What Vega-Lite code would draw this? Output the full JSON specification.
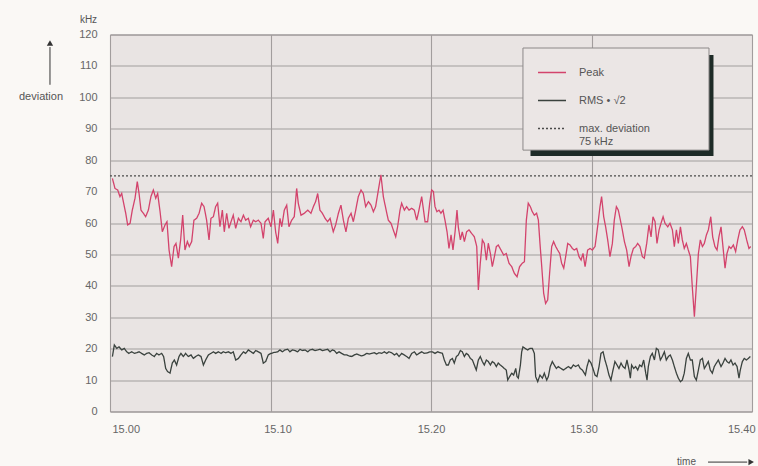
{
"$schema":"https://vega.github.io/schema/vega-lite/v6.json",
"width":642,"height":377,
"autosize":{"type":"none"},
"padding":{"left":110,"top":34.5,"right":6,"bottom":54.5},
"background":"#faf8f5",
"resolve":{"axis":{"x":"independent","y":"independent"}},
"config":{
 "view":{"fill":"#e9e4e3","stroke":"#8f8a8a","strokeWidth":1},
 "font":"Liberation Sans",
 "axis":{"labelFont":"Liberation Sans","titleFont":"Liberation Sans","labelColor":"#666","titleColor":"#555","labelFontSize":11,"ticks":false,"domain":false,"grid":true,"gridColor":"#a29d9d","gridWidth":1.1,"titleFontWeight":"normal","titleFontSize":10,"labelOverlap":false},
 "legend":{"orient":"none","legendX":427,"legendY":23,"symbolType":"stroke","symbolSize":784,"symbolStrokeWidth":1.3,"labelFont":"Liberation Sans","labelFontSize":11,"labelColor":"#555","labelOffset":12,"rowPadding":8,"padding":0,"labelLimit":200}
},
"datasets":{"d":[
{"s":"Peak","t":0.15,"v":74.2},{"s":"Peak","t":0.31,"v":71.0},{"s":"Peak","t":0.48,"v":70.5},{"s":"Peak","t":0.62,"v":68.4},{"s":"Peak","t":0.73,"v":69.4},{"s":"Peak","t":0.83,"v":66.8},{"s":"Peak","t":0.98,"v":63.1},{"s":"Peak","t":1.10,"v":59.4},{"s":"Peak","t":1.25,"v":59.9},{"s":"Peak","t":1.39,"v":64.1},{"s":"Peak","t":1.56,"v":67.9},{"s":"Peak","t":1.70,"v":73.2},{"s":"Peak","t":1.81,"v":69.4},{"s":"Peak","t":1.93,"v":64.1},{"s":"Peak","t":2.08,"v":63.1},{"s":"Peak","t":2.22,"v":62.0},{"s":"Peak","t":2.39,"v":64.1},{"s":"Peak","t":2.55,"v":68.4},{"s":"Peak","t":2.70,"v":70.5},{"s":"Peak","t":2.85,"v":67.9},{"s":"Peak","t":2.97,"v":69.4},{"s":"Peak","t":3.12,"v":63.6},{"s":"Peak","t":3.26,"v":57.2},{"s":"Peak","t":3.43,"v":59.4},{"s":"Peak","t":3.55,"v":60.4},{"s":"Peak","t":3.68,"v":51.4},{"s":"Peak","t":3.84,"v":46.1},{"s":"Peak","t":3.99,"v":52.5},{"s":"Peak","t":4.11,"v":53.5},{"s":"Peak","t":4.26,"v":48.8},{"s":"Peak","t":4.40,"v":54.6},{"s":"Peak","t":4.53,"v":62.5},{"s":"Peak","t":4.67,"v":51.4},{"s":"Peak","t":4.82,"v":54.1},{"s":"Peak","t":4.94,"v":52.5},{"s":"Peak","t":5.09,"v":54.1},{"s":"Peak","t":5.23,"v":60.9},{"s":"Peak","t":5.40,"v":61.5},{"s":"Peak","t":5.55,"v":63.1},{"s":"Peak","t":5.71,"v":66.3},{"s":"Peak","t":5.86,"v":65.2},{"s":"Peak","t":6.02,"v":60.9},{"s":"Peak","t":6.17,"v":54.6},{"s":"Peak","t":6.29,"v":61.5},{"s":"Peak","t":6.44,"v":62.0},{"s":"Peak","t":6.58,"v":65.2},{"s":"Peak","t":6.71,"v":66.3},{"s":"Peak","t":6.85,"v":58.8},{"s":"Peak","t":7.00,"v":64.1},{"s":"Peak","t":7.12,"v":57.2},{"s":"Peak","t":7.27,"v":63.1},{"s":"Peak","t":7.41,"v":58.3},{"s":"Peak","t":7.54,"v":60.4},{"s":"Peak","t":7.68,"v":62.5},{"s":"Peak","t":7.83,"v":58.3},{"s":"Peak","t":8.00,"v":61.5},{"s":"Peak","t":8.16,"v":60.4},{"s":"Peak","t":8.31,"v":62.5},{"s":"Peak","t":8.45,"v":60.9},{"s":"Peak","t":8.62,"v":61.5},{"s":"Peak","t":8.76,"v":58.8},{"s":"Peak","t":8.93,"v":60.9},{"s":"Peak","t":9.08,"v":60.4},{"s":"Peak","t":9.24,"v":60.9},{"s":"Peak","t":9.41,"v":59.9},{"s":"Peak","t":9.55,"v":55.1},{"s":"Peak","t":9.66,"v":60.4},{"s":"Peak","t":9.86,"v":61.5},{"s":"Peak","t":10.03,"v":58.8},{"s":"Peak","t":10.18,"v":64.1},{"s":"Peak","t":10.32,"v":57.2},{"s":"Peak","t":10.45,"v":53.5},{"s":"Peak","t":10.59,"v":61.5},{"s":"Peak","t":10.70,"v":58.8},{"s":"Peak","t":10.86,"v":64.1},{"s":"Peak","t":11.01,"v":65.7},{"s":"Peak","t":11.15,"v":58.8},{"s":"Peak","t":11.32,"v":60.9},{"s":"Peak","t":11.48,"v":62.0},{"s":"Peak","t":11.63,"v":71.0},{"s":"Peak","t":11.73,"v":66.3},{"s":"Peak","t":11.90,"v":62.5},{"s":"Peak","t":12.11,"v":63.1},{"s":"Peak","t":12.32,"v":64.1},{"s":"Peak","t":12.52,"v":63.1},{"s":"Peak","t":12.67,"v":65.2},{"s":"Peak","t":12.81,"v":66.8},{"s":"Peak","t":12.94,"v":69.4},{"s":"Peak","t":13.08,"v":64.1},{"s":"Peak","t":13.23,"v":63.1},{"s":"Peak","t":13.40,"v":61.5},{"s":"Peak","t":13.56,"v":60.4},{"s":"Peak","t":13.71,"v":61.5},{"s":"Peak","t":13.91,"v":57.2},{"s":"Peak","t":14.06,"v":59.4},{"s":"Peak","t":14.23,"v":63.1},{"s":"Peak","t":14.39,"v":65.7},{"s":"Peak","t":14.54,"v":60.9},{"s":"Peak","t":14.70,"v":57.2},{"s":"Peak","t":14.85,"v":61.5},{"s":"Peak","t":15.02,"v":63.1},{"s":"Peak","t":15.16,"v":60.4},{"s":"Peak","t":15.31,"v":64.1},{"s":"Peak","t":15.47,"v":68.4},{"s":"Peak","t":15.64,"v":70.5},{"s":"Peak","t":15.78,"v":69.4},{"s":"Peak","t":15.93,"v":65.2},{"s":"Peak","t":16.10,"v":66.8},{"s":"Peak","t":16.26,"v":65.7},{"s":"Peak","t":16.41,"v":63.6},{"s":"Peak","t":16.55,"v":65.2},{"s":"Peak","t":16.72,"v":70.5},{"s":"Peak","t":16.88,"v":75.3},{"s":"Peak","t":17.03,"v":68.4},{"s":"Peak","t":17.18,"v":64.7},{"s":"Peak","t":17.34,"v":60.9},{"s":"Peak","t":17.51,"v":59.9},{"s":"Peak","t":17.65,"v":57.8},{"s":"Peak","t":17.80,"v":55.6},{"s":"Peak","t":17.92,"v":58.8},{"s":"Peak","t":18.07,"v":64.1},{"s":"Peak","t":18.17,"v":66.3},{"s":"Peak","t":18.34,"v":64.1},{"s":"Peak","t":18.48,"v":65.2},{"s":"Peak","t":18.63,"v":64.1},{"s":"Peak","t":18.80,"v":64.7},{"s":"Peak","t":18.96,"v":64.1},{"s":"Peak","t":19.11,"v":60.9},{"s":"Peak","t":19.25,"v":64.1},{"s":"Peak","t":19.42,"v":68.4},{"s":"Peak","t":19.63,"v":60.4},{"s":"Peak","t":19.79,"v":60.4},{"s":"Peak","t":19.92,"v":66.3},{"s":"Peak","t":20.04,"v":70.5},{"s":"Peak","t":20.15,"v":70.0},{"s":"Peak","t":20.25,"v":65.2},{"s":"Peak","t":20.37,"v":63.6},{"s":"Peak","t":20.50,"v":64.1},{"s":"Peak","t":20.62,"v":63.1},{"s":"Peak","t":20.75,"v":64.1},{"s":"Peak","t":20.87,"v":60.9},{"s":"Peak","t":21.00,"v":57.2},{"s":"Peak","t":21.12,"v":51.9},{"s":"Peak","t":21.25,"v":56.2},{"s":"Peak","t":21.37,"v":51.4},{"s":"Peak","t":21.50,"v":57.2},{"s":"Peak","t":21.62,"v":64.1},{"s":"Peak","t":21.70,"v":58.8},{"s":"Peak","t":21.83,"v":54.6},{"s":"Peak","t":21.95,"v":57.2},{"s":"Peak","t":22.08,"v":54.1},{"s":"Peak","t":22.22,"v":57.2},{"s":"Peak","t":22.37,"v":57.8},{"s":"Peak","t":22.53,"v":56.7},{"s":"Peak","t":22.70,"v":55.6},{"s":"Peak","t":22.85,"v":52.5},{"s":"Peak","t":22.95,"v":38.7},{"s":"Peak","t":23.07,"v":47.2},{"s":"Peak","t":23.20,"v":54.6},{"s":"Peak","t":23.32,"v":53.5},{"s":"Peak","t":23.45,"v":48.2},{"s":"Peak","t":23.57,"v":53.5},{"s":"Peak","t":23.70,"v":50.3},{"s":"Peak","t":23.82,"v":46.1},{"s":"Peak","t":23.95,"v":49.3},{"s":"Peak","t":24.07,"v":52.5},{"s":"Peak","t":24.19,"v":53.0},{"s":"Peak","t":24.36,"v":51.4},{"s":"Peak","t":24.53,"v":49.8},{"s":"Peak","t":24.69,"v":50.3},{"s":"Peak","t":24.86,"v":47.2},{"s":"Peak","t":25.03,"v":46.1},{"s":"Peak","t":25.19,"v":44.0},{"s":"Peak","t":25.36,"v":42.9},{"s":"Peak","t":25.52,"v":46.1},{"s":"Peak","t":25.69,"v":47.2},{"s":"Peak","t":25.82,"v":47.7},{"s":"Peak","t":25.94,"v":60.9},{"s":"Peak","t":26.06,"v":66.3},{"s":"Peak","t":26.19,"v":65.2},{"s":"Peak","t":26.31,"v":63.6},{"s":"Peak","t":26.44,"v":62.5},{"s":"Peak","t":26.58,"v":63.1},{"s":"Peak","t":26.69,"v":60.9},{"s":"Peak","t":26.79,"v":53.5},{"s":"Peak","t":26.90,"v":46.1},{"s":"Peak","t":27.02,"v":37.6},{"s":"Peak","t":27.14,"v":34.4},{"s":"Peak","t":27.27,"v":35.5},{"s":"Peak","t":27.39,"v":44.0},{"s":"Peak","t":27.52,"v":52.5},{"s":"Peak","t":27.64,"v":54.1},{"s":"Peak","t":27.77,"v":52.5},{"s":"Peak","t":27.89,"v":51.4},{"s":"Peak","t":28.02,"v":50.3},{"s":"Peak","t":28.14,"v":47.2},{"s":"Peak","t":28.27,"v":45.6},{"s":"Peak","t":28.39,"v":49.3},{"s":"Peak","t":28.52,"v":53.5},{"s":"Peak","t":28.66,"v":53.0},{"s":"Peak","t":28.81,"v":51.9},{"s":"Peak","t":28.93,"v":51.4},{"s":"Peak","t":29.08,"v":51.9},{"s":"Peak","t":29.22,"v":49.3},{"s":"Peak","t":29.35,"v":48.2},{"s":"Peak","t":29.47,"v":50.3},{"s":"Peak","t":29.60,"v":46.1},{"s":"Peak","t":29.76,"v":51.4},{"s":"Peak","t":29.91,"v":51.9},{"s":"Peak","t":30.05,"v":51.4},{"s":"Peak","t":30.22,"v":52.5},{"s":"Peak","t":30.38,"v":58.8},{"s":"Peak","t":30.53,"v":65.2},{"s":"Peak","t":30.63,"v":68.4},{"s":"Peak","t":30.76,"v":62.0},{"s":"Peak","t":30.88,"v":58.8},{"s":"Peak","t":31.01,"v":54.6},{"s":"Peak","t":31.15,"v":49.3},{"s":"Peak","t":31.30,"v":53.5},{"s":"Peak","t":31.42,"v":60.9},{"s":"Peak","t":31.55,"v":65.2},{"s":"Peak","t":31.67,"v":64.1},{"s":"Peak","t":31.80,"v":60.9},{"s":"Peak","t":31.92,"v":57.8},{"s":"Peak","t":32.05,"v":54.1},{"s":"Peak","t":32.19,"v":51.4},{"s":"Peak","t":32.34,"v":46.1},{"s":"Peak","t":32.46,"v":49.3},{"s":"Peak","t":32.61,"v":51.9},{"s":"Peak","t":32.75,"v":52.5},{"s":"Peak","t":32.88,"v":53.5},{"s":"Peak","t":33.02,"v":52.5},{"s":"Peak","t":33.17,"v":49.3},{"s":"Peak","t":33.29,"v":48.8},{"s":"Peak","t":33.44,"v":53.5},{"s":"Peak","t":33.58,"v":59.4},{"s":"Peak","t":33.71,"v":55.6},{"s":"Peak","t":33.83,"v":62.0},{"s":"Peak","t":33.96,"v":60.4},{"s":"Peak","t":34.08,"v":53.5},{"s":"Peak","t":34.21,"v":57.8},{"s":"Peak","t":34.33,"v":59.9},{"s":"Peak","t":34.46,"v":62.0},{"s":"Peak","t":34.58,"v":59.9},{"s":"Peak","t":34.75,"v":58.8},{"s":"Peak","t":34.89,"v":59.9},{"s":"Peak","t":35.04,"v":57.8},{"s":"Peak","t":35.16,"v":52.5},{"s":"Peak","t":35.29,"v":57.8},{"s":"Peak","t":35.41,"v":53.5},{"s":"Peak","t":35.54,"v":58.8},{"s":"Peak","t":35.66,"v":54.6},{"s":"Peak","t":35.78,"v":51.9},{"s":"Peak","t":35.91,"v":53.5},{"s":"Peak","t":36.03,"v":51.4},{"s":"Peak","t":36.16,"v":49.3},{"s":"Peak","t":36.28,"v":39.7},{"s":"Peak","t":36.41,"v":30.2},{"s":"Peak","t":36.53,"v":39.7},{"s":"Peak","t":36.66,"v":50.3},{"s":"Peak","t":36.78,"v":54.6},{"s":"Peak","t":36.91,"v":52.5},{"s":"Peak","t":37.03,"v":53.5},{"s":"Peak","t":37.16,"v":56.2},{"s":"Peak","t":37.28,"v":57.8},{"s":"Peak","t":37.43,"v":62.0},{"s":"Peak","t":37.55,"v":55.6},{"s":"Peak","t":37.69,"v":52.5},{"s":"Peak","t":37.82,"v":51.4},{"s":"Peak","t":37.94,"v":55.6},{"s":"Peak","t":38.07,"v":58.8},{"s":"Peak","t":38.19,"v":52.5},{"s":"Peak","t":38.32,"v":45.6},{"s":"Peak","t":38.44,"v":50.3},{"s":"Peak","t":38.57,"v":52.5},{"s":"Peak","t":38.69,"v":51.9},{"s":"Peak","t":38.84,"v":53.0},{"s":"Peak","t":38.98,"v":50.9},{"s":"Peak","t":39.11,"v":54.6},{"s":"Peak","t":39.25,"v":57.8},{"s":"Peak","t":39.40,"v":58.8},{"s":"Peak","t":39.52,"v":57.8},{"s":"Peak","t":39.67,"v":54.6},{"s":"Peak","t":39.81,"v":51.9},{"s":"Peak","t":39.92,"v":52.5},
{"s":"RMS • √2","t":0.15,"v":17.5},{"s":"RMS • √2","t":0.27,"v":21.2},{"s":"RMS • √2","t":0.42,"v":20.1},{"s":"RMS • √2","t":0.56,"v":20.6},{"s":"RMS • √2","t":0.73,"v":19.6},{"s":"RMS • √2","t":0.89,"v":20.1},{"s":"RMS • √2","t":1.04,"v":19.0},{"s":"RMS • √2","t":1.18,"v":18.5},{"s":"RMS • √2","t":1.35,"v":19.0},{"s":"RMS • √2","t":1.52,"v":18.5},{"s":"RMS • √2","t":1.66,"v":18.7},{"s":"RMS • √2","t":1.81,"v":19.0},{"s":"RMS • √2","t":1.97,"v":18.5},{"s":"RMS • √2","t":2.14,"v":18.0},{"s":"RMS • √2","t":2.28,"v":18.5},{"s":"RMS • √2","t":2.43,"v":18.7},{"s":"RMS • √2","t":2.60,"v":18.0},{"s":"RMS • √2","t":2.76,"v":17.5},{"s":"RMS • √2","t":2.91,"v":18.5},{"s":"RMS • √2","t":3.05,"v":18.0},{"s":"RMS • √2","t":3.22,"v":18.5},{"s":"RMS • √2","t":3.34,"v":17.5},{"s":"RMS • √2","t":3.47,"v":13.7},{"s":"RMS • √2","t":3.59,"v":12.7},{"s":"RMS • √2","t":3.74,"v":12.2},{"s":"RMS • √2","t":3.88,"v":15.4},{"s":"RMS • √2","t":4.01,"v":16.4},{"s":"RMS • √2","t":4.15,"v":14.8},{"s":"RMS • √2","t":4.30,"v":17.5},{"s":"RMS • √2","t":4.42,"v":18.5},{"s":"RMS • √2","t":4.57,"v":17.5},{"s":"RMS • √2","t":4.71,"v":18.5},{"s":"RMS • √2","t":4.88,"v":17.5},{"s":"RMS • √2","t":5.05,"v":18.0},{"s":"RMS • √2","t":5.19,"v":16.9},{"s":"RMS • √2","t":5.34,"v":17.5},{"s":"RMS • √2","t":5.50,"v":18.0},{"s":"RMS • √2","t":5.67,"v":17.5},{"s":"RMS • √2","t":5.82,"v":14.8},{"s":"RMS • √2","t":5.96,"v":16.4},{"s":"RMS • √2","t":6.13,"v":18.0},{"s":"RMS • √2","t":6.29,"v":18.5},{"s":"RMS • √2","t":6.44,"v":19.0},{"s":"RMS • √2","t":6.58,"v":18.5},{"s":"RMS • √2","t":6.75,"v":19.0},{"s":"RMS • √2","t":6.92,"v":18.5},{"s":"RMS • √2","t":7.06,"v":19.0},{"s":"RMS • √2","t":7.21,"v":18.7},{"s":"RMS • √2","t":7.37,"v":19.0},{"s":"RMS • √2","t":7.54,"v":18.5},{"s":"RMS • √2","t":7.68,"v":19.0},{"s":"RMS • √2","t":7.83,"v":16.4},{"s":"RMS • √2","t":8.00,"v":16.9},{"s":"RMS • √2","t":8.16,"v":18.0},{"s":"RMS • √2","t":8.31,"v":19.0},{"s":"RMS • √2","t":8.45,"v":18.5},{"s":"RMS • √2","t":8.62,"v":19.6},{"s":"RMS • √2","t":8.79,"v":19.0},{"s":"RMS • √2","t":8.93,"v":18.5},{"s":"RMS • √2","t":9.08,"v":19.4},{"s":"RMS • √2","t":9.24,"v":19.0},{"s":"RMS • √2","t":9.41,"v":18.5},{"s":"RMS • √2","t":9.55,"v":15.4},{"s":"RMS • √2","t":9.70,"v":15.9},{"s":"RMS • √2","t":9.86,"v":18.0},{"s":"RMS • √2","t":10.03,"v":18.5},{"s":"RMS • √2","t":10.24,"v":18.8},{"s":"RMS • √2","t":10.45,"v":19.0},{"s":"RMS • √2","t":10.59,"v":19.6},{"s":"RMS • √2","t":10.74,"v":19.0},{"s":"RMS • √2","t":10.90,"v":19.6},{"s":"RMS • √2","t":11.07,"v":19.8},{"s":"RMS • √2","t":11.21,"v":19.0},{"s":"RMS • √2","t":11.36,"v":19.6},{"s":"RMS • √2","t":11.53,"v":19.4},{"s":"RMS • √2","t":11.69,"v":19.0},{"s":"RMS • √2","t":11.84,"v":19.8},{"s":"RMS • √2","t":11.98,"v":19.4},{"s":"RMS • √2","t":12.15,"v":19.6},{"s":"RMS • √2","t":12.32,"v":19.0},{"s":"RMS • √2","t":12.46,"v":19.6},{"s":"RMS • √2","t":12.61,"v":19.8},{"s":"RMS • √2","t":12.77,"v":19.4},{"s":"RMS • √2","t":12.94,"v":19.6},{"s":"RMS • √2","t":13.08,"v":19.8},{"s":"RMS • √2","t":13.23,"v":19.4},{"s":"RMS • √2","t":13.40,"v":19.6},{"s":"RMS • √2","t":13.56,"v":19.8},{"s":"RMS • √2","t":13.71,"v":19.0},{"s":"RMS • √2","t":13.85,"v":19.6},{"s":"RMS • √2","t":13.98,"v":19.4},{"s":"RMS • √2","t":14.12,"v":18.5},{"s":"RMS • √2","t":14.27,"v":19.0},{"s":"RMS • √2","t":14.43,"v":18.5},{"s":"RMS • √2","t":14.60,"v":18.0},{"s":"RMS • √2","t":14.75,"v":18.0},{"s":"RMS • √2","t":14.89,"v":17.7},{"s":"RMS • √2","t":15.06,"v":17.5},{"s":"RMS • √2","t":15.22,"v":18.0},{"s":"RMS • √2","t":15.37,"v":18.3},{"s":"RMS • √2","t":15.51,"v":18.0},{"s":"RMS • √2","t":15.68,"v":17.7},{"s":"RMS • √2","t":15.85,"v":18.0},{"s":"RMS • √2","t":15.99,"v":18.5},{"s":"RMS • √2","t":16.14,"v":18.3},{"s":"RMS • √2","t":16.30,"v":18.5},{"s":"RMS • √2","t":16.47,"v":18.7},{"s":"RMS • √2","t":16.61,"v":18.3},{"s":"RMS • √2","t":16.76,"v":18.7},{"s":"RMS • √2","t":16.93,"v":18.5},{"s":"RMS • √2","t":17.09,"v":19.0},{"s":"RMS • √2","t":17.24,"v":18.5},{"s":"RMS • √2","t":17.38,"v":19.0},{"s":"RMS • √2","t":17.55,"v":18.7},{"s":"RMS • √2","t":17.72,"v":18.0},{"s":"RMS • √2","t":17.86,"v":18.5},{"s":"RMS • √2","t":18.01,"v":17.5},{"s":"RMS • √2","t":18.17,"v":18.5},{"s":"RMS • √2","t":18.34,"v":18.0},{"s":"RMS • √2","t":18.48,"v":17.5},{"s":"RMS • √2","t":18.63,"v":16.9},{"s":"RMS • √2","t":18.80,"v":18.5},{"s":"RMS • √2","t":18.96,"v":19.0},{"s":"RMS • √2","t":19.11,"v":18.0},{"s":"RMS • √2","t":19.25,"v":18.5},{"s":"RMS • √2","t":19.42,"v":19.0},{"s":"RMS • √2","t":19.58,"v":18.5},{"s":"RMS • √2","t":19.79,"v":18.7},{"s":"RMS • √2","t":19.94,"v":19.0},{"s":"RMS • √2","t":20.08,"v":19.0},{"s":"RMS • √2","t":20.25,"v":18.5},{"s":"RMS • √2","t":20.42,"v":19.0},{"s":"RMS • √2","t":20.56,"v":18.7},{"s":"RMS • √2","t":20.71,"v":18.5},{"s":"RMS • √2","t":20.83,"v":16.4},{"s":"RMS • √2","t":20.96,"v":14.8},{"s":"RMS • √2","t":21.08,"v":14.8},{"s":"RMS • √2","t":21.20,"v":16.4},{"s":"RMS • √2","t":21.33,"v":16.9},{"s":"RMS • √2","t":21.45,"v":15.4},{"s":"RMS • √2","t":21.58,"v":17.5},{"s":"RMS • √2","t":21.70,"v":18.0},{"s":"RMS • √2","t":21.83,"v":19.4},{"s":"RMS • √2","t":21.95,"v":19.0},{"s":"RMS • √2","t":22.08,"v":17.5},{"s":"RMS • √2","t":22.20,"v":18.5},{"s":"RMS • √2","t":22.33,"v":18.0},{"s":"RMS • √2","t":22.45,"v":16.9},{"s":"RMS • √2","t":22.58,"v":16.4},{"s":"RMS • √2","t":22.70,"v":14.8},{"s":"RMS • √2","t":22.82,"v":13.2},{"s":"RMS • √2","t":22.95,"v":16.4},{"s":"RMS • √2","t":23.07,"v":17.5},{"s":"RMS • √2","t":23.20,"v":15.9},{"s":"RMS • √2","t":23.32,"v":14.8},{"s":"RMS • √2","t":23.45,"v":16.4},{"s":"RMS • √2","t":23.57,"v":15.9},{"s":"RMS • √2","t":23.70,"v":14.8},{"s":"RMS • √2","t":23.82,"v":15.9},{"s":"RMS • √2","t":23.95,"v":15.4},{"s":"RMS • √2","t":24.07,"v":14.3},{"s":"RMS • √2","t":24.19,"v":15.4},{"s":"RMS • √2","t":24.32,"v":14.8},{"s":"RMS • √2","t":24.44,"v":14.3},{"s":"RMS • √2","t":24.57,"v":13.7},{"s":"RMS • √2","t":24.69,"v":13.2},{"s":"RMS • √2","t":24.78,"v":10.0},{"s":"RMS • √2","t":24.90,"v":11.1},{"s":"RMS • √2","t":25.03,"v":12.2},{"s":"RMS • √2","t":25.15,"v":11.6},{"s":"RMS • √2","t":25.28,"v":13.7},{"s":"RMS • √2","t":25.36,"v":11.1},{"s":"RMS • √2","t":25.44,"v":10.6},{"s":"RMS • √2","t":25.57,"v":14.8},{"s":"RMS • √2","t":25.65,"v":19.0},{"s":"RMS • √2","t":25.73,"v":20.6},{"s":"RMS • √2","t":25.86,"v":20.1},{"s":"RMS • √2","t":26.02,"v":19.6},{"s":"RMS • √2","t":26.17,"v":20.1},{"s":"RMS • √2","t":26.31,"v":20.1},{"s":"RMS • √2","t":26.44,"v":18.5},{"s":"RMS • √2","t":26.52,"v":11.1},{"s":"RMS • √2","t":26.65,"v":9.5},{"s":"RMS • √2","t":26.79,"v":11.6},{"s":"RMS • √2","t":26.94,"v":10.6},{"s":"RMS • √2","t":27.06,"v":12.2},{"s":"RMS • √2","t":27.21,"v":10.0},{"s":"RMS • √2","t":27.31,"v":11.1},{"s":"RMS • √2","t":27.43,"v":14.3},{"s":"RMS • √2","t":27.56,"v":15.9},{"s":"RMS • √2","t":27.68,"v":14.8},{"s":"RMS • √2","t":27.81,"v":13.7},{"s":"RMS • √2","t":27.93,"v":14.3},{"s":"RMS • √2","t":28.10,"v":13.7},{"s":"RMS • √2","t":28.25,"v":13.2},{"s":"RMS • √2","t":28.39,"v":13.7},{"s":"RMS • √2","t":28.56,"v":14.3},{"s":"RMS • √2","t":28.72,"v":13.7},{"s":"RMS • √2","t":28.87,"v":14.8},{"s":"RMS • √2","t":29.01,"v":14.3},{"s":"RMS • √2","t":29.18,"v":14.8},{"s":"RMS • √2","t":29.30,"v":13.7},{"s":"RMS • √2","t":29.43,"v":13.2},{"s":"RMS • √2","t":29.55,"v":12.2},{"s":"RMS • √2","t":29.62,"v":11.6},{"s":"RMS • √2","t":29.72,"v":14.3},{"s":"RMS • √2","t":29.84,"v":16.4},{"s":"RMS • √2","t":29.97,"v":15.4},{"s":"RMS • √2","t":30.09,"v":13.7},{"s":"RMS • √2","t":30.22,"v":11.6},{"s":"RMS • √2","t":30.34,"v":11.1},{"s":"RMS • √2","t":30.47,"v":14.3},{"s":"RMS • √2","t":30.59,"v":18.5},{"s":"RMS • √2","t":30.72,"v":19.0},{"s":"RMS • √2","t":30.84,"v":16.4},{"s":"RMS • √2","t":30.96,"v":14.3},{"s":"RMS • √2","t":31.09,"v":11.6},{"s":"RMS • √2","t":31.21,"v":10.0},{"s":"RMS • √2","t":31.34,"v":13.2},{"s":"RMS • √2","t":31.46,"v":15.9},{"s":"RMS • √2","t":31.59,"v":14.8},{"s":"RMS • √2","t":31.71,"v":13.7},{"s":"RMS • √2","t":31.84,"v":15.4},{"s":"RMS • √2","t":31.96,"v":14.3},{"s":"RMS • √2","t":32.09,"v":13.7},{"s":"RMS • √2","t":32.21,"v":16.4},{"s":"RMS • √2","t":32.34,"v":13.2},{"s":"RMS • √2","t":32.42,"v":10.6},{"s":"RMS • √2","t":32.50,"v":14.8},{"s":"RMS • √2","t":32.63,"v":13.7},{"s":"RMS • √2","t":32.75,"v":14.3},{"s":"RMS • √2","t":32.88,"v":13.2},{"s":"RMS • √2","t":33.00,"v":14.8},{"s":"RMS • √2","t":33.13,"v":14.3},{"s":"RMS • √2","t":33.25,"v":16.4},{"s":"RMS • √2","t":33.38,"v":12.2},{"s":"RMS • √2","t":33.46,"v":10.0},{"s":"RMS • √2","t":33.54,"v":14.3},{"s":"RMS • √2","t":33.67,"v":17.5},{"s":"RMS • √2","t":33.79,"v":18.5},{"s":"RMS • √2","t":33.92,"v":16.4},{"s":"RMS • √2","t":34.04,"v":20.1},{"s":"RMS • √2","t":34.16,"v":19.6},{"s":"RMS • √2","t":34.29,"v":16.4},{"s":"RMS • √2","t":34.41,"v":17.5},{"s":"RMS • √2","t":34.54,"v":19.0},{"s":"RMS • √2","t":34.66,"v":16.4},{"s":"RMS • √2","t":34.79,"v":17.5},{"s":"RMS • √2","t":34.91,"v":18.0},{"s":"RMS • √2","t":35.04,"v":16.4},{"s":"RMS • √2","t":35.16,"v":14.3},{"s":"RMS • √2","t":35.29,"v":12.2},{"s":"RMS • √2","t":35.41,"v":10.6},{"s":"RMS • √2","t":35.54,"v":9.5},{"s":"RMS • √2","t":35.66,"v":10.0},{"s":"RMS • √2","t":35.78,"v":12.2},{"s":"RMS • √2","t":35.91,"v":16.9},{"s":"RMS • √2","t":36.03,"v":18.5},{"s":"RMS • √2","t":36.16,"v":16.4},{"s":"RMS • √2","t":36.28,"v":16.4},{"s":"RMS • √2","t":36.41,"v":11.1},{"s":"RMS • √2","t":36.53,"v":10.0},{"s":"RMS • √2","t":36.66,"v":13.2},{"s":"RMS • √2","t":36.78,"v":16.4},{"s":"RMS • √2","t":36.91,"v":16.9},{"s":"RMS • √2","t":37.03,"v":13.7},{"s":"RMS • √2","t":37.16,"v":14.8},{"s":"RMS • √2","t":37.28,"v":15.9},{"s":"RMS • √2","t":37.40,"v":13.2},{"s":"RMS • √2","t":37.53,"v":12.2},{"s":"RMS • √2","t":37.65,"v":14.3},{"s":"RMS • √2","t":37.78,"v":15.4},{"s":"RMS • √2","t":37.90,"v":16.4},{"s":"RMS • √2","t":38.07,"v":14.3},{"s":"RMS • √2","t":38.19,"v":15.4},{"s":"RMS • √2","t":38.32,"v":16.9},{"s":"RMS • √2","t":38.44,"v":15.9},{"s":"RMS • √2","t":38.57,"v":15.4},{"s":"RMS • √2","t":38.69,"v":16.4},{"s":"RMS • √2","t":38.82,"v":14.8},{"s":"RMS • √2","t":38.94,"v":15.4},{"s":"RMS • √2","t":39.07,"v":14.3},{"s":"RMS • √2","t":39.19,"v":10.6},{"s":"RMS • √2","t":39.27,"v":13.2},{"s":"RMS • √2","t":39.40,"v":15.9},{"s":"RMS • √2","t":39.52,"v":16.9},{"s":"RMS • √2","t":39.65,"v":16.4},{"s":"RMS • √2","t":39.77,"v":16.9},{"s":"RMS • √2","t":39.90,"v":17.5},
{"s":"max. deviation 75 kHz","t":0,"v":75},{"s":"max. deviation 75 kHz","t":40,"v":75}
]},
"layer":[
 {"data":{"name":"d"},"mark":{"type":"line","strokeWidth":1.3},
  "encoding":{
   "x":{"field":"t","type":"quantitative","scale":{"domain":[0,40],"nice":false,"zero":false},
     "axis":{"values":[0,10,20,30,40],"labelExpr":"'15.' + (datum.value < 10 ? '0' : '') + datum.value","labelFlush":true,"labelPadding":12,
       "labelOffset":{"expr":"datum.value == 10 ? 7 : datum.value == 30 ? -8 : datum.value == 0 ? 2 : datum.value == 40 ? 3 : 0"},
       "title":"time","titleX":576,"titleY":50,"titleAlign":"center","titleBaseline":"middle"}},
   "y":{"field":"v","type":"quantitative","scale":{"domain":[0,120],"nice":false},
     "axis":{"values":[0,10,20,30,40,50,60,70,80,90,100,110,120],"labelPadding":13,"title":"kHz","titleAngle":0,"titleX":-22,"titleY":-15,"titleAlign":"center","titleBaseline":"middle"}},
   "color":{"field":"s","type":"nominal","scale":{"domain":["Peak","RMS • √2","max. deviation 75 kHz"],"range":["#d3436c","#3a423e","#4a4a4a"]},
     "legend":{"title":null,"labelExpr":"datum.label == 'max. deviation 75 kHz' ? ['max. deviation','75 kHz'] : datum.label"}},
   "strokeDash":{"field":"s","type":"nominal","scale":{"domain":["Peak","RMS • √2","max. deviation 75 kHz"],"range":[[1,0],[1,0],[2,2]]},
     "legend":{"title":null,"labelExpr":"datum.label == 'max. deviation 75 kHz' ? ['max. deviation','75 kHz'] : datum.label"}}
  }},
 {"data":{"values":[{}]},"mark":{"type":"rect","fill":"#1e2b27"},
  "encoding":{"x":{"datum":26.2,"type":"quantitative","axis":null},"x2":{"datum":37.6},
   "y":{"datum":113.5,"type":"quantitative","axis":null},"y2":{"datum":81.3}}},
 {"data":{"values":[{}]},"mark":{"type":"rect","fill":"#ebe6e5","stroke":"#8c8888","strokeWidth":1},
  "encoding":{"x":{"datum":25.73,"type":"quantitative","axis":null},"x2":{"datum":37.32},
   "y":{"datum":115.7,"type":"quantitative","axis":null},"y2":{"datum":83.2}}},
 {"data":{"values":[{}]},"mark":{"type":"text","text":"deviation","font":"Liberation Sans","fontSize":11,"color":"#555","align":"center","baseline":"middle"},
  "encoding":{"x":{"datum":-4.3,"type":"quantitative","axis":null},"y":{"datum":100,"type":"quantitative","axis":null}}},
 {"data":{"values":[{}]},"mark":{"type":"rule","color":"#333","strokeWidth":1},
  "encoding":{"x":{"datum":-3.74,"type":"quantitative","axis":null},"y":{"datum":104,"type":"quantitative","axis":null},"y2":{"datum":116}}},
 {"data":{"values":[{}]},"mark":{"type":"point","shape":"triangle-up","filled":true,"color":"#333","size":40,"opacity":1},
  "encoding":{"x":{"datum":-3.74,"type":"quantitative","axis":null},"y":{"datum":117.3,"type":"quantitative","axis":null}}},
 {"data":{"values":[{}]},"mark":{"type":"rule","color":"#333","strokeWidth":1},
  "encoding":{"x":{"datum":37.26,"type":"quantitative","axis":null},"x2":{"datum":39.7},"y":{"datum":-16.1,"type":"quantitative","axis":null}}},
 {"data":{"values":[{}]},"mark":{"type":"point","shape":"triangle-right","filled":true,"color":"#333","size":40,"opacity":1},
  "encoding":{"x":{"datum":39.95,"type":"quantitative","axis":null},"y":{"datum":-16.1,"type":"quantitative","axis":null}}}
]
}
